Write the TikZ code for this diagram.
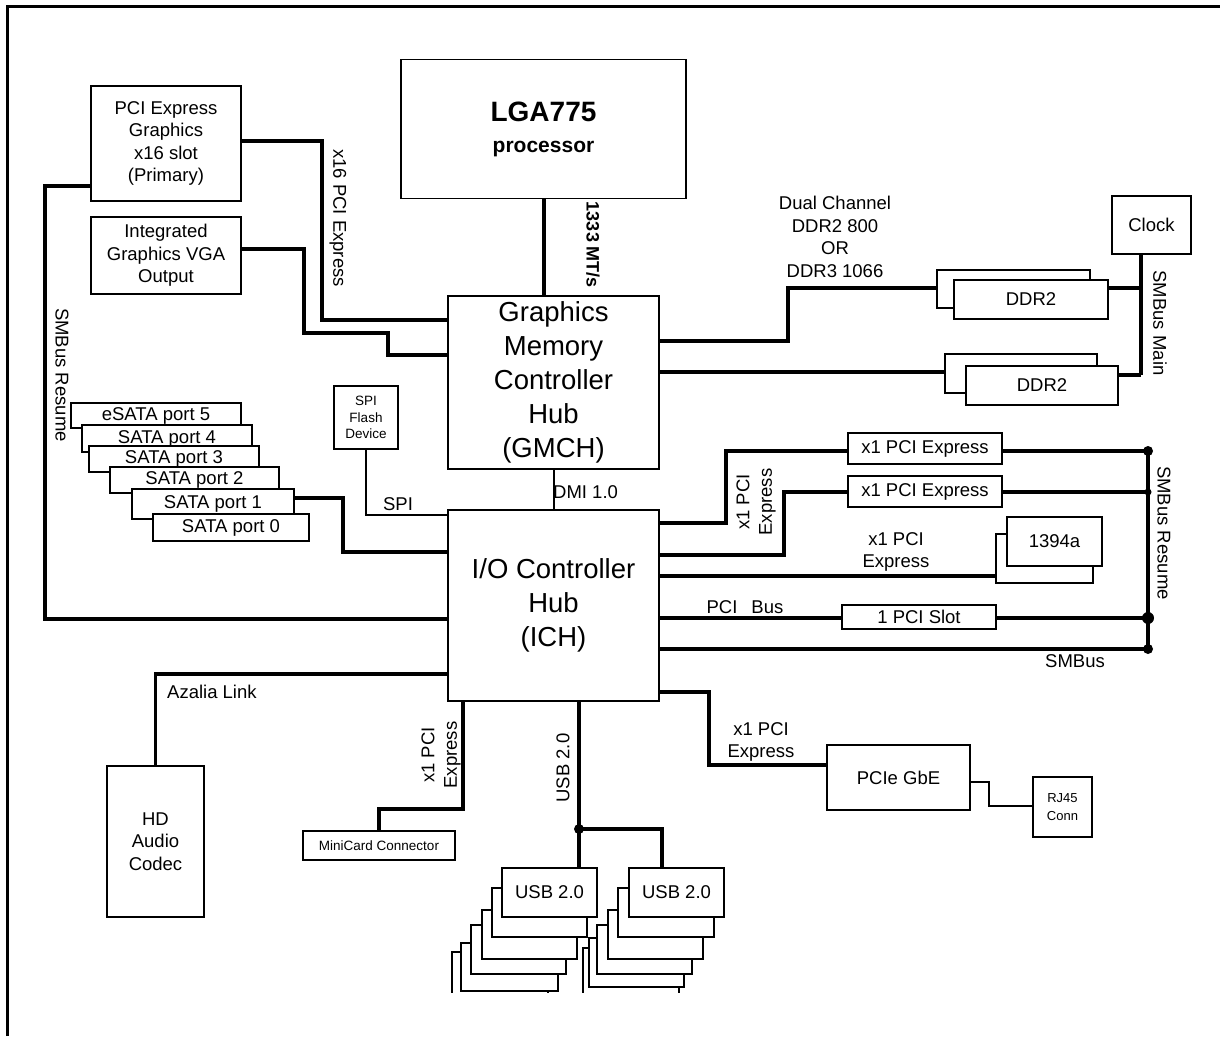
\documentclass[tikz,border=0pt]{standalone}
\usepackage{fontspec}
\setmainfont{Liberation Sans}
\newcommand\dgnorm{\fontsize{18.5}{22.5}\selectfont}
\newcommand\dgbig{\fontsize{27.5}{34}\selectfont}
\newcommand\dgsmall{\fontsize{13}{18}\selectfont}
\newcommand\dgmini{\fontsize{13.5}{16.5}\selectfont}
\begin{document}
\begin{tikzpicture}[x=1pt,y=-1pt,
  box/.style={draw,line width=1.5pt,fill=white,inner sep=0pt,align=center,font=\dgnorm},
  sz/.style 2 args={minimum width=#1pt,minimum height=#2pt},
  wire/.style={line width=3.2pt},
  thinwire/.style={line width=1.6pt},
  lbl/.style={inner sep=0pt,align=center,font=\dgnorm},
  dot/.style={fill=black}
]
\useasboundingbox (0,0) rectangle (1220,1036);
% frame
\draw[line width=3pt] (7,1036) -- (7,6) -- (1220,6);

% main chips
\node[box,sz={285}{139},font=\bfseries\fontsize{21}{30}\selectfont] (cpu) at (543.5,129) {{\fontsize{28}{30}\selectfont LGA775}\\[1pt]processor};
\node[box,sz={211}{173},font=\dgbig] (gmch) at (553.5,382.5) {Graphics\\Memory\\Controller\\Hub\\(GMCH)};
\node[box,sz={211}{191},font=\dgbig] (ich) at (553.5,605.5) {I/O Controller\\Hub\\(ICH)};

% left side
\node[box,sz={150}{115}] (pcie) at (166,143.5) {PCI Express\\Graphics\\x16 slot\\(Primary)};
\node[box,sz={150}{77}] (igfx) at (166,255.5) {Integrated\\Graphics VGA\\Output};
\node[box,sz={64}{63},font=\dgmini] (flash) at (366,417.5) {SPI\\Flash\\Device};

\node[box,sz={170}{25}] (s5) at (156,415.5) {eSATA port 5};
\node[box,sz={170}{27}] (s4) at (167,438.5) {SATA port 4};
\node[box,sz={170}{26}] (s3) at (174,459) {SATA port 3};
\node[box,sz={169}{26}] (s2) at (194.5,480) {SATA port 2};
\node[box,sz={162}{30}] (s1) at (213,504) {SATA port 1};
\node[box,sz={156}{27}] (s0) at (231,527.5) {SATA port 0};

\node[box,sz={97}{151}] (hda) at (155.5,841.5) {HD\\Audio\\Codec};
\node[box,sz={152}{29},font=\dgmini] (mini) at (379,845.5) {MiniCard Connector};

% right side
\node[box,sz={79}{58}] (clock) at (1151.5,225) {Clock};
\node[box,sz={153}{38}] (ddrAb) at (1013.5,289) {};
\node[box,sz={154}{39}] (ddrAf) at (1031,299.5) {DDR2};
\node[box,sz={152}{39}] (ddrBb) at (1021,373.5) {};
\node[box,sz={152}{39}] (ddrBf) at (1042,385.5) {DDR2};

\node[box,sz={154}{31}] (pxa) at (925,448.5) {x1 PCI Express};
\node[box,sz={154}{31}] (pxb) at (925,491.5) {x1 PCI Express};
\node[box,sz={97}{49}] (fwb) at (1044.5,558.5) {};
\node[box,sz={95}{49}] (fwf) at (1054.5,541.5) {1394a};
\node[box,sz={154}{24}] (pcislot) at (919,617) {1 PCI Slot};
\node[box,sz={143}{65}] (gbe) at (898.5,777.5) {PCIe GbE};
\node[box,sz={59}{60},font=\dgsmall] (rj) at (1062.5,807) {RJ45\\Conn};

% USB stacks
\begin{scope}
\clip (0,0) rectangle (1220,992);
\node[box,sz={96}{58}] (ua6) at (500,981) {};
\node[box,sz={97}{48}] (ua5) at (509.5,967) {};
\node[box,sz={95}{49}] (ua4) at (518.5,949.5) {};
\node[box,sz={95}{49}] (ua3) at (529.5,934.5) {};
\node[box,sz={95}{49}] (ua2) at (539.5,912.5) {};
\node[box,sz={95}{49}] (ua1) at (549.5,892.5) {USB 2.0};
\node[box,sz={96}{62}] (ub6) at (631,979) {};
\node[box,sz={95}{49}] (ub5) at (636.5,962.5) {};
\node[box,sz={95}{49}] (ub4) at (644.5,949.5) {};
\node[box,sz={95}{49}] (ub3) at (655.5,934.5) {};
\node[box,sz={96}{49}] (ub2) at (666,912.5) {};
\node[box,sz={95}{49}] (ub1) at (676.5,892.5) {USB 2.0};
\end{scope}

% junctions
\coordinate (j1) at (1148,451);
\coordinate (j2) at (1148,492);
\coordinate (j3) at (1148,618);
\coordinate (j4) at (1148,649);
\coordinate (ju) at (579,829);

% wires
\draw[wire] (544,0 |- cpu.south) -- (544,0 |- gmch.north);
\draw[line width=2pt] (gmch.south) -- (ich.north);
\draw[wire] (pcie.east |- 0,141) -- (322,141) -- (322,320) -- (gmch.west |- 0,320);
\draw[wire] (igfx.east |- 0,249) -- (304,249) -- (304,333) -- (388,333) -- (388,355) -- (gmch.west |- 0,355);
\draw[wire] (pcie.west |- 0,186) -- (45,186) -- (45,619) -- (ich.west |- 0,619);
\draw[wire] (gmch.east |- 0,341) -- (788,341) -- (788,288) -- (ddrAb.west |- 0,288);
\draw[wire] (gmch.east |- 0,372) -- (ddrBb.west |- 0,372);
\draw[wire] (1141,0 |- clock.south) -- (1141,375);
\draw[wire] (ddrAf.east |- 0,288) -- (1141,288);
\draw[wire] (ddrBf.east |- 0,375) -- (1141,375);
\draw[thinwire] (flash.south) -- (flash.south |- 0,515) -- (ich.west |- 0,515);
\draw[wire] (s1.east |- 0,498) -- (343,498) -- (343,552) -- (ich.west |- 0,552);

\draw[wire] (ich.east |- 0,523) -- (726,523) -- (726,451) -- (pxa.west |- 0,451);
\draw[wire] (ich.east |- 0,555) -- (784,555) -- (784,492) -- (pxb.west |- 0,492);
\draw[wire] (ich.east |- 0,576) -- (fwb.west |- 0,576);
\draw[wire] (ich.east |- 0,618) -- (pcislot.west |- 0,618);
\draw[wire] (ich.east |- 0,649) -- (j4);
\draw[wire] (pxa.east |- j1) -- (j1);
\draw[wire] (pxb.east |- j2) -- (j2);
\draw[wire] (pcislot.east |- j3) -- (j3);
\draw[wire] (j1) -- (j4);
\fill[dot] (j1) circle (5pt);
\fill[dot] (j2) circle (3.5pt);
\fill[dot] (j3) circle (6pt);
\fill[dot] (j4) circle (5pt);

\draw[wire] (ich.east |- 0,692) -- (709,692) -- (709,765) -- (gbe.west |- 0,765);
\draw[thinwire] (gbe.east |- 0,782) -- (989,782) -- (989,806) -- (rj.west |- 0,806);
\draw[wire] (ich.west |- 0,674) -- (155.5,674) -- (hda.north);
\draw[wire] (463,0 |- ich.south) -- (463,809) -- (379,809) -- (mini.north);
\draw[wire] (579,0 |- ich.south) -- (579,0 |- ua1.north);
\draw[wire] (ju) -- (662,829) -- (662,0 |- ub1.north);
\fill[dot] (ju) circle (5pt);

% labels
\node[lbl,rotate=-90] (l16) at (338,218) {x16 PCI Express};
\node[lbl,rotate=-90] (lsmr) at (62,375) {SMBus Resume};
\node[lbl,rotate=-90,font=\bfseries\fontsize{18}{22}\selectfont] (lfsb) at (593,245) {1333 MT/s};
\node[lbl] (ldual) at (835,237) {Dual Channel\\DDR2 800\\OR\\DDR3 1066};
\node[lbl,rotate=-90] (lsmm) at (1160,323) {SMBus Main};
\node[lbl,anchor=west] (ldmi) at (553,492) {DMI 1.0};
\node[lbl] (lspi) at (398,504) {SPI};
\node[lbl,rotate=90] (lpx1) at (756,502) {x1 PCI\\Express};
\node[lbl] (lpx3) at (896,552) {x1 PCI\\Express};
\node[lbl] (lpci) at (745,607) {PCI\hspace{14pt}Bus};
\node[lbl] (lsmb) at (1075,661) {SMBus};
\node[lbl,rotate=-90] (lsmr2) at (1164,533) {SMBus Resume};
\node[lbl,anchor=west] (laz) at (167,692) {Azalia Link};
\node[lbl,rotate=90] (lmini) at (441,755) {x1 PCI\\Express};
\node[lbl,rotate=90] (lusb) at (563,768) {USB 2.0};
\node[lbl] (lgbe) at (761,742) {x1 PCI\\Express};
\end{tikzpicture}
\end{document}
